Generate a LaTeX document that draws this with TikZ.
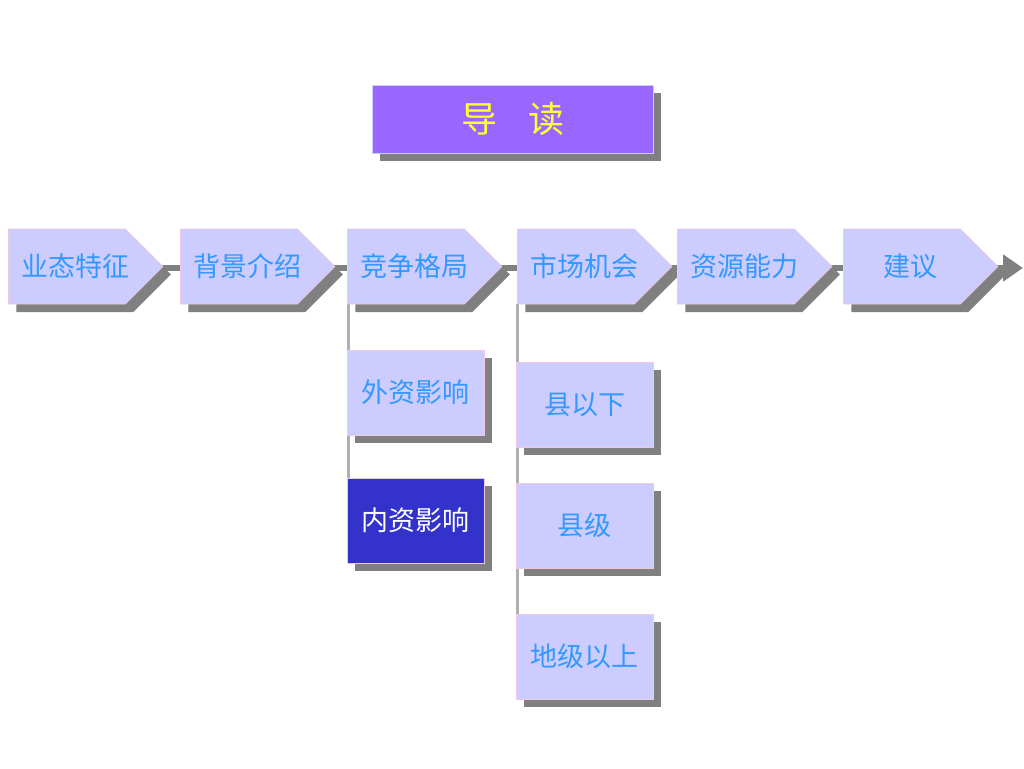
\documentclass[tikz,border=0pt]{standalone}
\usepackage{fontspec}
\setmainfont{Noto Sans CJK SC}
\usetikzlibrary{positioning,arrows.meta,shapes.symbols,shadows,backgrounds}
\definecolor{boxlilac}{RGB}{204,204,255}
\definecolor{boxedge}{RGB}{240,200,225}
\definecolor{labelblue}{RGB}{51,153,255}
\definecolor{titlepurple}{RGB}{153,102,255}
\definecolor{titleyellow}{RGB}{255,255,51}
\definecolor{deepblue}{RGB}{51,51,204}
\definecolor{shadowgray}{RGB}{128,128,128}
\definecolor{stemgray}{RGB}{175,175,175}
\tikzset{
  boxshadow/.style={drop shadow={shadow xshift=8pt, shadow yshift=-8pt, fill=shadowgray, opacity=1}},
  stagebox/.style={signal, signal to=east, signal pointer angle=90,
    minimum height=75pt, inner sep=0pt, anchor=west,
    fill=boxlilac, draw=boxedge, line width=0.8pt, text=labelblue,
    font=\fontsize{27}{27}\selectfont, boxshadow},
  subbox/.style={rectangle, minimum width=137pt, minimum height=85pt, inner sep=0pt,
    fill=boxlilac, draw=boxedge, line width=0.8pt, text=labelblue,
    font=\fontsize{27}{27}\selectfont, boxshadow},
  flowline/.style={draw=shadowgray, line width=6pt, -{Triangle[length=20pt,width=26pt]}},
  stemline/.style={draw=stemgray, line width=3pt},
}
\newcommand{\stagecard}[3]{%
  \node[stagebox] (#1) at (#2,266.5) {\makebox[117pt]{\hspace*{17pt}#3}};}
\newcommand{\subcard}[4]{%
  \node[subbox] (#1) at (#2,#3) {#4};}

\begin{document}
\begin{tikzpicture}[x=1pt, y=-1pt]
  \useasboundingbox (0,0) rectangle (1024,768);
  % title
  \node[rectangle, minimum width=281pt, minimum height=68pt, fill=titlepurple,
        draw=boxlilac, line width=0.8pt, text=titleyellow, boxshadow,
        font=\fontsize{36}{36}\selectfont] (title) at (512.5,119) {导\hspace{31pt}读};
  % main stages
  \stagecard{yetai}{8}{业态特征}
  \stagecard{beijing}{180}{背景介绍}
  \stagecard{jingzheng}{347}{竞争格局}
  \stagecard{shichang}{517}{市场机会}
  \stagecard{ziyuan}{677}{资源能力}
  \stagecard{jianyi}{843}{建议}
  % sub items
  \subcard{waizi}{415.5}{392.5}{外资影响}
  \node[subbox, fill=deepblue, text=white] (neizi) at (415.5,520.5) {内资影响};
  \subcard{xianyixia}{584.5}{404.5}{县以下}
  \subcard{xianji}{584.5}{525.5}{县级}
  \subcard{dijiyishang}{584.5}{656.5}{地级以上}
  \coordinate (flowend) at (1023,268);
  \begin{scope}[on background layer]
    \draw[flowline] (yetai.center |- flowend) -- (flowend);
    \draw[stemline] ([xshift=1.5pt]waizi.west |- jingzheng.south) -- ([xshift=1.5pt]neizi.north west);
    \draw[stemline] ([xshift=1.5pt]xianyixia.west |- shichang.south) -- ([xshift=1.5pt]dijiyishang.north west);
  \end{scope}
\end{tikzpicture}
\end{document}
